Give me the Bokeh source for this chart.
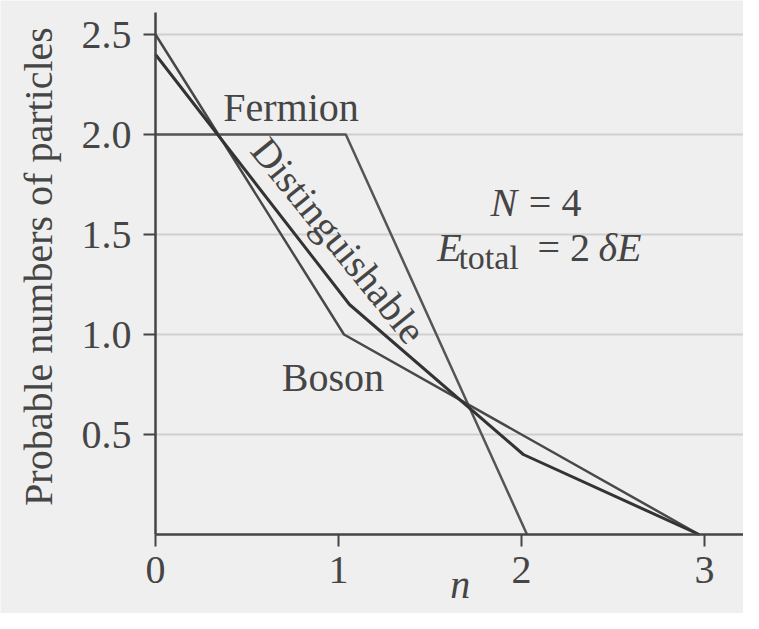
from bokeh.plotting import figure
from bokeh.models import Range1d, FixedTicker, Label
from bokeh.embed import file_html
from bokeh.resources import INLINE

# ---- data ----
n_fermion = [0, 1.04, 2.03]
fermion = [2.0, 2.0, 0.0]

n_boson = [0, 1.03, 2.0, 2.97]
boson = [2.5, 1.0, 0.5, 0.0]

n_dist = [0, 1.06, 2.01, 2.97]
distinguishable = [2.4, 1.15, 0.4, 0.0]

x_ticks = [0, 1, 2, 3]
x_tick_labels = ["0", "1", "2", "3"]
y_ticks = [0.5, 1.0, 1.5, 2.0, 2.5]
y_tick_labels = ["0.5", "1.0", "1.5", "2.0", "2.5"]

BG = "#efefef"
INK = "#454545"
FONT = "Liberation Serif"

X_START, X_END = 0.0, 3.3     # extent of x axis line and grid lines
Y_START, Y_END = 0.0, 2.61    # extent of y axis line

# the frame fills the whole canvas; axes are pinned at x=0 / y=0
p = figure(width=743, height=613,
           x_range=Range1d(-0.847, 3.213), y_range=Range1d(-0.395, 2.67),
           output_backend="svg", toolbar_location=None,
           min_border_left=0, min_border_right=0,
           min_border_top=0, min_border_bottom=0)

p.background_fill_color = BG
p.border_fill_color = BG
p.outline_line_color = None

# grid lines (only to the right of the y axis)
p.xgrid.grid_line_color = None
p.ygrid.grid_line_color = None
p.segment(x0=[X_START] * len(y_ticks), y0=y_ticks,
          x1=[X_END] * len(y_ticks), y1=y_ticks,
          line_color="#d0d0d0", line_width=2, level="underlay")

# axes
p.xaxis.ticker = FixedTicker(ticks=x_ticks)
p.yaxis.ticker = FixedTicker(ticks=y_ticks)
p.xaxis.major_label_overrides = {t: l for t, l in zip(x_ticks, x_tick_labels)}
p.yaxis.major_label_overrides = {t: l for t, l in zip(y_ticks, y_tick_labels)}
p.xaxis.fixed_location = 0
p.yaxis.fixed_location = 0
p.xaxis.bounds = (X_START, X_END)
p.yaxis.bounds = (Y_START, Y_END)
for ax in (p.xaxis, p.yaxis):
    ax.axis_line_color = INK
    ax.axis_line_width = 2.5
    ax.major_tick_line_color = INK
    ax.major_tick_line_width = 2
    ax.major_tick_in = 0
    ax.major_tick_out = 12
    ax.minor_tick_line_color = None
    ax.major_label_text_font = FONT
    ax.major_label_text_font_size = "40px"
    ax.major_label_text_color = INK
p.xaxis.major_label_standoff = 10
p.yaxis.major_label_standoff = 12

# curves
p.line(n_fermion, fermion, line_color="#555555", line_width=2.5)
p.line(n_boson, boson, line_color="#484848", line_width=2.5)
p.line(n_dist, distinguishable, line_color="#333333", line_width=3)

def lab(x, y, text, size="40px", style="normal", **kw):
    p.add_layout(Label(x=x, y=y, text=text, text_font=FONT, text_font_size=size,
                       text_font_style=style, text_color=INK, **kw))

# y-axis title
lab(-0.639, 1.34, "Probable numbers of particles", text_align="center",
    text_baseline="middle", angle=90, angle_units="deg")

lab(0.37, 2.135, "Fermion", text_baseline="alphabetic")
lab(0.69, 0.785, "Boson", text_baseline="alphabetic")
lab(1.0, 1.47, "Distinguishable", text_align="center", text_baseline="middle",
    angle=-51, angle_units="deg")

# N = 4
lab(1.83, 1.66, "N", style="italic", text_baseline="alphabetic")
lab(2.04, 1.66, "= 4", text_baseline="alphabetic")
# E_total = 2 dE
lab(1.54, 1.435, "E", style="italic", text_baseline="alphabetic")
lab(1.655, 1.385, "total", size="34px", text_baseline="alphabetic")
lab(2.087, 1.435, "= 2", text_baseline="alphabetic")
lab(2.42, 1.435, "\u03b4E", style="italic", text_baseline="alphabetic")

# x-axis title
lab(1.61, -0.25, "n", style="italic", text_baseline="alphabetic")

open("out.html", "w").write(file_html(p, INLINE))
